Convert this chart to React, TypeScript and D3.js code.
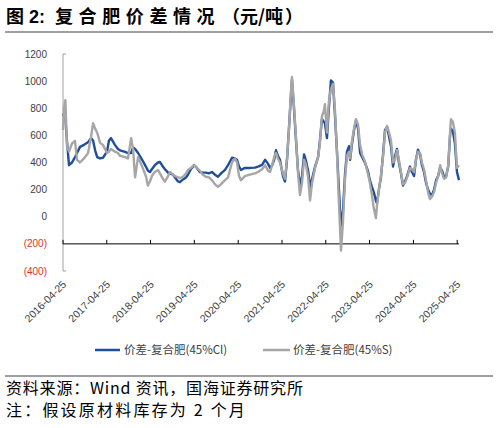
import React from "react"
import * as d3 from "d3"

// sample dates (irregular)
const dates = [
  "2016-04-25", "2016-05-03", "2016-05-15", "2016-05-28", "2016-06-14", "2016-07-09", "2016-08-03", "2016-08-20",
  "2016-09-14", "2016-10-17", "2016-11-20", "2016-12-15", "2017-01-01", "2017-01-18", "2017-02-04", "2017-02-28",
  "2017-03-24", "2017-04-27", "2017-05-13", "2017-05-30", "2017-07-02", "2017-07-27", "2017-08-13", "2017-09-25",
  "2017-10-19", "2017-11-14", "2017-11-30", "2017-12-17", "2018-01-11", "2018-02-14", "2018-03-17", "2018-04-03",
  "2018-04-20", "2018-05-06", "2018-05-31", "2018-06-26", "2018-07-12", "2018-08-06", "2018-08-23", "2018-09-18",
  "2018-10-05", "2018-10-29", "2018-11-15", "2018-12-10", "2018-12-26", "2019-01-21", "2019-02-15", "2019-03-03",
  "2019-03-27", "2019-04-22", "2019-05-16", "2019-06-10", "2019-07-05", "2019-07-30", "2019-08-25", "2019-09-19",
  "2019-10-14", "2019-11-08", "2019-12-04", "2020-01-06", "2020-01-31", "2020-03-04", "2020-03-29", "2020-04-15",
  "2020-05-02", "2020-05-18", "2020-06-20", "2020-08-01", "2020-09-12", "2020-10-07", "2020-11-10", "2020-12-05",
  "2020-12-30", "2021-01-16", "2021-02-02", "2021-02-19", "2021-03-06", "2021-03-22", "2021-04-08", "2021-05-03",
  "2021-05-20", "2021-06-06", "2021-06-22", "2021-07-09", "2021-07-17", "2021-08-03", "2021-08-20", "2021-09-05",
  "2021-09-22", "2021-10-09", "2021-10-26", "2021-11-12", "2021-11-29", "2021-12-15", "2022-01-01", "2022-01-26",
  "2022-02-20", "2022-03-07", "2022-03-24", "2022-04-09", "2022-04-18", "2022-05-05", "2022-05-21", "2022-06-07",
  "2022-06-24", "2022-07-10", "2022-07-27", "2022-08-13", "2022-08-21", "2022-08-30", "2022-09-16", "2022-10-03",
  "2022-10-19", "2022-11-05", "2022-11-14", "2022-11-30", "2022-12-17", "2023-01-02", "2023-01-19", "2023-02-05",
  "2023-02-22", "2023-03-17", "2023-04-11", "2023-04-28", "2023-05-15", "2023-05-31", "2023-06-17", "2023-06-26",
  "2023-07-12", "2023-07-29", "2023-08-15", "2023-09-01", "2023-09-18", "2023-10-05", "2023-10-21", "2023-11-07",
  "2023-11-24", "2023-12-10", "2023-12-26", "2024-01-12", "2024-01-29", "2024-02-15", "2024-03-03", "2024-03-27",
  "2024-04-13", "2024-04-30", "2024-05-16", "2024-06-02", "2024-06-19", "2024-07-05", "2024-07-22", "2024-08-08",
  "2024-08-25", "2024-09-10", "2024-09-27", "2024-10-14", "2024-10-31", "2024-11-17", "2024-12-04", "2024-12-20",
  "2025-01-06", "2025-01-23", "2025-02-09", "2025-02-26", "2025-03-04", "2025-03-20", "2025-04-06", "2025-04-23",
  "2025-05-10",
]

// 价差-复合肥(45%Cl)
const spreadCl = [
  760, 740, 730, 560, 380, 400, 440, 470, 515, 530, 550, 580, 560, 490, 440, 430,
  435, 480, 560, 580, 530, 500, 490, 478, 470, 470, 510, 500, 470, 420, 370, 340,
  330, 350, 380, 400, 404, 370, 350, 325, 320, 310, 290, 260, 255, 275, 290, 310,
  350, 380, 360, 330, 325, 325, 320, 330, 310, 295, 320, 345, 380, 435, 430, 420,
  370, 345, 360, 360, 362, 370, 382, 420, 390, 360, 380, 420, 490, 450, 420, 300,
  260, 420, 650, 900, 1010, 800, 560, 350, 230, 300, 460, 410, 340, 220, 280, 370,
  440, 560, 720, 700, 690, 580, 800, 1005, 990, 760, 490, 200, 60, -70, 50, 320,
  480, 520, 420, 540, 640, 710, 650, 470, 440, 400, 340, 270, 220, 180, 120, 100,
  200, 290, 450, 640, 660, 590, 520, 370, 450, 500, 400, 320, 230, 260, 300, 370,
  330, 300, 420, 495, 460, 380, 330, 250, 200, 170, 160, 200, 270, 300, 360, 340,
  290, 300, 370, 620, 650, 630, 540, 330, 270,
]

// 价差-复合肥(45%S)
const spreadS = [
  640, 800, 860, 520, 480, 540, 560, 420, 400, 430, 470, 590, 690, 650, 620, 545,
  530, 470, 480, 500, 480, 470, 450, 440, 430, 580, 500, 290, 440, 370, 300, 230,
  260, 300, 330, 345, 320, 280, 260, 300, 330, 310, 300, 290, 285, 295, 320, 345,
  360, 380, 360, 340, 310, 295, 290, 270, 240, 220, 240, 270, 290, 400, 430, 400,
  300, 270, 300, 310, 320, 330, 350, 380, 340, 330, 380, 440, 470, 430, 400, 320,
  280, 430, 640, 920, 1030, 820, 580, 330, 160, 250, 420, 380, 290, 120, 250, 360,
  440, 540, 740, 780, 830, 620, 850, 940, 980, 800, 480, 100, -60, -250, -30, 280,
  450, 480, 430, 560, 650, 720, 680, 530, 460, 410, 320, 250, 160, 60, -10, 80,
  200, 300, 440, 620, 670, 620, 560, 400, 420, 490, 420, 330, 240, 250, 290, 360,
  350, 330, 420, 480, 470, 400, 350, 270, 180, 130, 150, 180, 250, 300, 380, 320,
  280, 290, 380, 640, 720, 700, 620, 360, 380,
]

const yTicks = [1200, 1000, 800, 600, 400, 200, 0, -200, -400]
const xTickLabels = [
  "2016-04-25", "2017-04-25", "2018-04-25", "2019-04-25", "2020-04-25",
  "2021-04-25", "2022-04-25", "2023-04-25", "2024-04-25", "2025-04-25",
]

const parse = d3.timeParse("%Y-%m-%d")
const sans = "'Liberation Sans', Arial, sans-serif"
const cjk = "'Noto Sans CJK SC', sans-serif"

export default function App() {
  const x = d3.scaleTime()
    .domain([parse("2016-04-25")!, parse("2025-04-25")!])
    .range([63, 457.2])
  const y = d3.scaleLinear().domain([-400, 1200]).range([271, 54])

  const line = d3.line<number>()
    .x((_, i) => x(parse(dates[i])!))
    .y((d) => y(d))

  const lastX = x(parse(dates[dates.length - 1])!)

  return (
    <svg width={498} height={428} style={{ position: "absolute", left: 0, top: 0 }}>
      <rect width={498} height={428} fill="#fff" />
      {/* title */}
      <g fontFamily={cjk} fontWeight="bold" fontSize={18} fill="#000">
        <text x={6} y={23}>图</text>
        <text x={29} y={23} fontFamily={sans}>2:</text>
        <text x={55} y={23} letterSpacing={5.6}>复合肥价差情况</text>
        <text x={222} y={23}>（</text>
        <text x={240} y={23}>元/吨</text>
        <text x={285} y={23}>）</text>
      </g>
      <line x1={5} x2={493} y1={32} y2={32} stroke="#808080" strokeWidth={1.5} />

      {/* y axis */}
      <line x1={63} x2={63} y1={y(1200)} y2={y(-400)} stroke="#a0a0a0" strokeWidth={1} />
      <line x1={63} x2={66} y1={y(1200)} y2={y(1200)} stroke="#a0a0a0" />
      <line x1={63} x2={66} y1={y(-400)} y2={y(-400)} stroke="#a0a0a0" />
      {yTicks.map((v) => (
        <text key={v} x={47} y={y(v)} dy="0.35em" textAnchor="end" fontFamily={sans} fontSize={10}
          fill={v < 0 ? "#e8302a" : "#404040"}>
          {v < 0 ? `(${-v})` : v}
        </text>
      ))}

      {/* x axis at -200 */}
      <line x1={63} x2={lastX} y1={y(-200)} y2={y(-200)} stroke="#000" strokeWidth={1} />
      {xTickLabels.map((s) => {
        const px = x(parse(s)!)
        return (
          <g key={s}>
            <line x1={px} x2={px} y1={y(-200)} y2={y(-200) - 4} stroke="#000" />
            <text transform={`translate(${px + 4},${285}) rotate(-45)`} textAnchor="end"
              fontFamily={sans} fontSize={10.5} fill="#404040">
              {s}
            </text>
          </g>
        )
      })}

      {/* series */}
      <path d={line(spreadCl) ?? ""} fill="none" stroke="#1f4e9c" strokeWidth={2.4} strokeLinejoin="round" />
      <path d={line(spreadS) ?? ""} fill="none" stroke="#a6a6a6" strokeWidth={2.4} strokeLinejoin="round" />

      {/* legend */}
      <line x1={95} x2={120} y1={350} y2={350} stroke="#1f4e9c" strokeWidth={2.5} />
      <text x={124} y={350} dy="0.35em" fontFamily={cjk} fontSize={11.5} fill="#404040">价差-复合肥(45%Cl)</text>
      <line x1={263} x2={290} y1={350} y2={350} stroke="#a6a6a6" strokeWidth={2.5} />
      <text x={293} y={350} dy="0.35em" fontFamily={cjk} fontSize={11.5} fill="#404040">价差-复合肥(45%S)</text>

      {/* footer */}
      <line x1={5} x2={493} y1={376} y2={376} stroke="#404040" strokeWidth={1} />
      <text x={6} y={394} fontFamily={cjk} fontSize={16} letterSpacing={0.8} fill="#000">
        资料来源：Wind 资讯，国海证券研究所
      </text>
      <text x={6} y={416} fontFamily={cjk} fontSize={16} letterSpacing={2.2} fill="#000">
        注：假设原材料库存为 2 个月
      </text>
    </svg>
  )
}
